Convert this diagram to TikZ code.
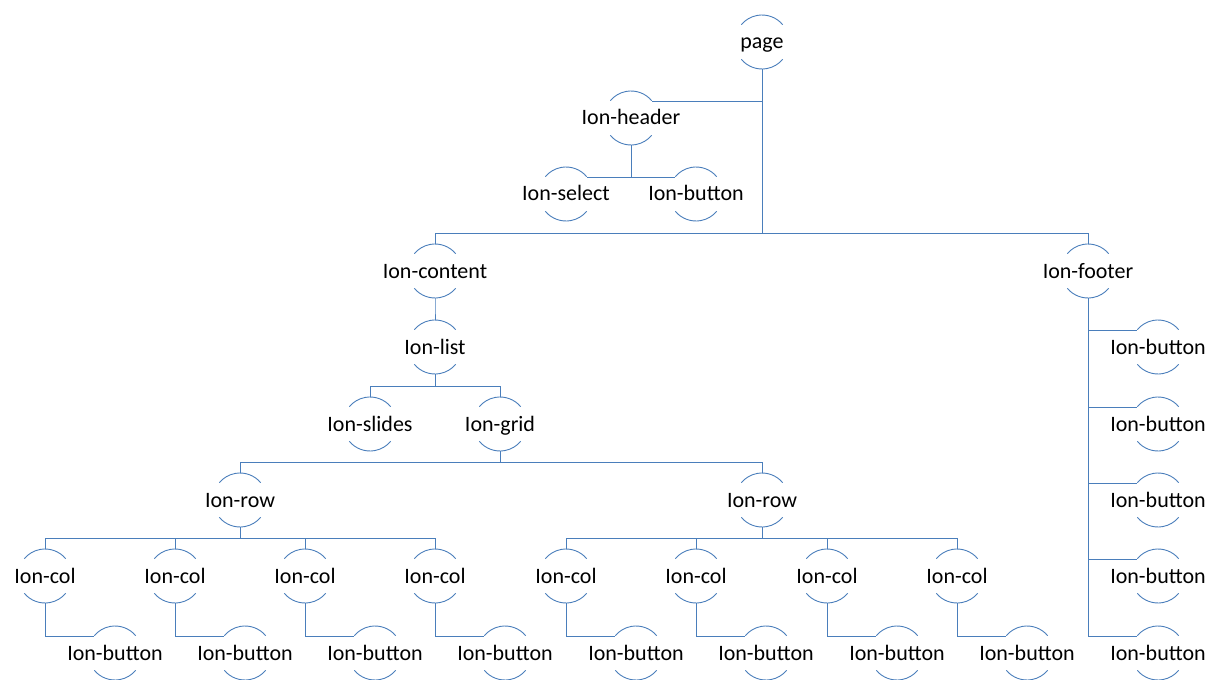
\documentclass[tikz,border=0pt]{standalone}
\usepackage{fontspec}
\setmainfont{Carlito}
\usetikzlibrary{calc}
\definecolor{linkblue}{RGB}{74,126,187}
\begin{document}
\begin{tikzpicture}
  [x=1bp,y=1bp,
   ion/.style={circle,minimum size=54bp,inner sep=0pt,outer sep=0pt,
     label={[name label]center:#1}},
   name label/.style={font=\fontsize{22bp}{26bp}\selectfont,text height=14bp,
     text depth=0pt,inner sep=0pt},
   link/.style={draw=linkblue,line width=0.9pt},
   rim/.style={draw=linkblue,line width=0.9pt}]
  \useasboundingbox (0,0) rectangle (1224,-680);

  \node[ion=page] (page) at (762,-42) {};
  \node[ion=Ion-header] (header) at (631,-118) {};
  \node[ion=Ion-select] (select) at (566,-194) {};
  \node[ion=Ion-button] (hbutton) at (696,-194) {};
  \node[ion=Ion-content] (content) at (435,-271) {};
  \node[ion=Ion-footer] (footer) at (1088,-271) {};
  \node[ion=Ion-list] (list) at (435,-347) {};
  \node[ion=Ion-slides] (slides) at (370,-424) {};
  \node[ion=Ion-grid] (grid) at (500,-424) {};
  \node[ion=Ion-row] (rowa) at (240,-500) {};
  \node[ion=Ion-row] (rowb) at (762,-500) {};

  \foreach \i/\x in {1/45,2/175,3/305,4/435,5/566,6/696,7/827,8/957} {
    \node[ion=Ion-col] (col\i) at (\x,-576) {};
    \node[ion=Ion-button] (cbtn\i) at (\x+70,-653) {};
  }
  \foreach \i/\y in {1/347,2/424,3/500,4/576,5/653}
    \node[ion=Ion-button] (fbtn\i) at (1158,-\y) {};

  % top and bottom arcs of every circle
  \foreach \n in {page,header,select,hbutton,content,footer,list,slides,grid,rowa,rowb,
                  col1,col2,col3,col4,col5,col6,col7,col8,
                  cbtn1,cbtn2,cbtn3,cbtn4,cbtn5,cbtn6,cbtn7,cbtn8,
                  fbtn1,fbtn2,fbtn3,fbtn4,fbtn5} {
    \draw[rim] (\n.40) arc[start angle=40,end angle=140,radius=27bp];
    \draw[rim] (\n.220) arc[start angle=220,end angle=320,radius=27bp];
  }

  \foreach \from/\to in {page/content, page/footer, content/list, list/slides, list/grid,
                         grid/rowa, grid/rowb, rowa/col1, rowa/col2, rowa/col3, rowa/col4,
                         rowb/col5, rowb/col6, rowb/col7, rowb/col8}
    \draw[link] (\from.south) |- ($(\to.north)+(0,11)$) -- (\to.north);

  \draw[link] (page.south) |- (header.39);
  \draw[link] (header.south) |- (select.39);
  \draw[link] (header.south) |- (hbutton.141);
  \foreach \i in {1,...,8}
    \draw[link] (col\i.south) |- (cbtn\i.141);
  \foreach \i in {1,...,5}
    \draw[link] (footer.south) |- (fbtn\i.141);

\end{tikzpicture}
\end{document}
